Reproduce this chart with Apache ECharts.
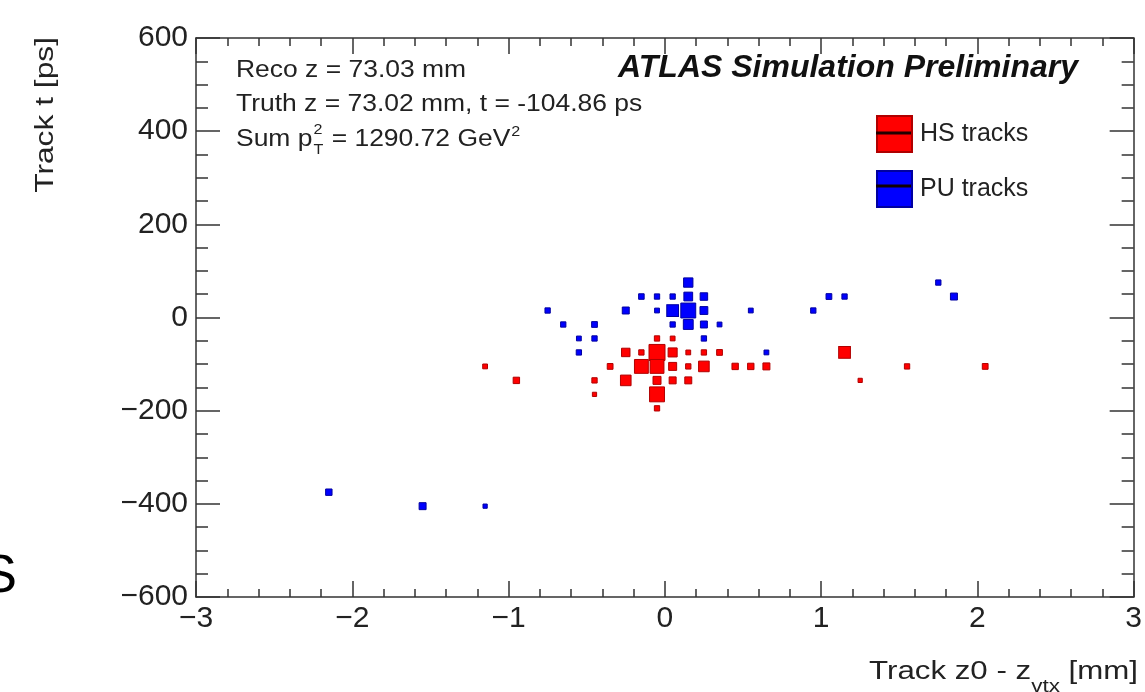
<!DOCTYPE html>
<html><head><meta charset="utf-8">
<script src="https://cdn.jsdelivr.net/npm/echarts@6/dist/echarts.min.js"></script>
<style>html,body{margin:0;padding:0;background:#fff}#c{width:1145px;height:692px}</style>
</head><body><div id="c"></div>
<script>
// Axis ranges / ticks
const xRange = [-3, 3];
const yRange = [-600, 600];
const xTickStep = 1;
const yTickStep = 200;

// HS tracks (bin centres: z0 - zvtx [mm], t [ps], relative bin content)
const hsZ = [-0.05, 0.05, -0.25, -0.15, -0.05, 0.05, 0.15, 0.25, 0.35, -0.35, -0.15, -0.05, 0.05, 0.15, 0.25, 0.45, 0.55, 0.65, -0.95, -0.45, -0.25, -0.05, 0.05, 0.15, -0.45, -0.05, -0.05, -1.15, 1.15, 1.25, 1.55, 2.05];
const hsT = [-45, -45, -75, -75, -75, -75, -75, -75, -75, -105, -105, -105, -105, -105, -105, -105, -105, -105, -135, -135, -135, -135, -135, -135, -165, -165, -195, -105, -75, -135, -105, -105];
const hsW = [11, 9, 28, 11, 100, 32, 9, 11, 13, 13, 75, 75, 25, 11, 44, 16, 16, 19, 16, 11, 44, 25, 19, 19, 7, 87, 11, 9, 54, 7, 11, 13];

// PU tracks
const puZ = [0.15, -0.15, -0.05, 0.05, 0.15, 0.25, -0.75, -0.25, -0.05, 0.05, 0.15, 0.25, 0.55, -0.65, -0.45, 0.05, 0.15, 0.25, 0.35, -0.55, -0.45, 0.25, -0.55, 0.65, 0.95, 1.05, 1.15, 1.75, 1.85, -2.15, -1.55, -1.15];
const puT = [75, 45, 45, 45, 45, 45, 15, 15, 15, 15, 15, 15, 15, -15, -15, -15, -15, -15, -15, -45, -45, -45, -75, -75, 15, 45, 45, 75, 45, -375, -405, -405];
const puW = [34, 12, 11, 11, 30, 22, 11, 19, 9, 54, 87, 24, 9, 11, 13, 11, 38, 19, 9, 9, 11, 11, 11, 9, 11, 13, 11, 11, 19, 16, 19, 7];

const hsData = hsZ.map((z, i) => [z, hsT[i], hsW[i]]);
const puData = puZ.map((z, i) => [z, puT[i], puW[i]]);

const FONT = '"Liberation Sans", Arial, Helvetica, sans-serif';
const ctx = document.createElement('canvas').getContext('2d');
function tw(s, size, weight) { ctx.font = (weight || 'normal') + ' ' + size + 'px ' + FONT; return ctx.measureText(s).width; }
const minus = v => String(v).replace('-', '\u2212');
const AX = '#333', TXT = '#222';

const tickCommon = { inside: true, lineStyle: { color: AX, width: 1.5 } };
function xAx(pos, labels) {
  return {
    type: 'value', min: xRange[0], max: xRange[1], interval: xTickStep, position: pos,
    axisLine: { show: true, onZero: false, lineStyle: { color: AX, width: 1.5 } },
    axisTick: Object.assign({ length: 16 }, tickCommon),
    minorTick: { show: true, splitNumber: 5, length: 8, lineStyle: { color: AX, width: 1.5 } },
    splitLine: { show: false },
    axisLabel: { show: labels, formatter: minus, fontSize: 30, color: TXT, fontFamily: FONT, margin: 7, showMinLabel: true, showMaxLabel: true }
  };
}
function yAx(pos, labels) {
  return {
    type: 'value', min: yRange[0], max: yRange[1], interval: yTickStep, position: pos,
    axisLine: { show: true, onZero: false, lineStyle: { color: AX, width: 1.5 } },
    axisTick: Object.assign({ length: 24 }, tickCommon),
    minorTick: { show: true, splitNumber: 4, length: 12, lineStyle: { color: AX, width: 1.5 } },
    splitLine: { show: false },
    axisLabel: { show: labels, formatter: minus, fontSize: 30, color: TXT, fontFamily: FONT, margin: 8, showMinLabel: true, showMaxLabel: true }
  };
}

const SX = 1.15, FS = 23;
const graphics = [];
function txt(s, x, y, size, opts) {
  const o = Object.assign({ align: 'left', sx: SX, weight: 'normal', style: 'normal', rot: 0, fill: TXT }, opts || {});
  graphics.push({
    type: 'text', x: x, y: y, scaleX: o.sx, rotation: o.rot,
    style: { text: s, fontSize: size, fontFamily: FONT, fontWeight: o.weight, fontStyle: o.style, fill: o.fill, align: o.align, verticalAlign: 'middle' }
  });
}
// info texts
txt('Reco z = 73.03 mm', 236, 71, FS);
txt('Truth z = 73.02 mm, t = -104.86 ps', 236, 105, FS);
(function () {
  const x0 = 236, yc = 140;
  const w1 = tw('Sum p', FS) * SX;
  txt('Sum p', x0, yc, FS);
  txt('T', x0 + w1 + 1, yc + 10, 14);
  txt('2', x0 + w1 + 1, yc - 10, 14);
  const w2 = Math.max(tw('T', 14), tw('2', 14)) * SX;
  const s3 = ' = 1290.72 GeV';
  const x3 = x0 + w1 + w2 + 2;
  txt(s3, x3, yc, FS);
  txt('2', x3 + tw(s3, FS) * SX + 1, yc - 8, 14);
})();
txt('ATLAS Simulation Preliminary', 1078, 68, 32, { align: 'right', sx: 1, weight: 'bold', style: 'italic', fill: '#111' });

// axis titles
(function () {
  const s = 1.25, fa = 25, fb = 18;
  const a = 'Track z0 - z', b = 'vtx', c = ' [mm]';
  const wa = tw(a, fa) * s, wb = tw(b, fb) * s, wc = tw(c, fa) * s;
  const x0 = 1138 - (wa + wb + wc);
  txt(a, x0, 672, fa, { sx: s });
  txt(b, x0 + wa, 687, fb, { sx: s });
  txt(c, x0 + wa + wb, 672, fa, { sx: s });
  txt('Track t [ps]', 46, 37, 25, { sx: 1.27, rot: Math.PI / 2, align: 'right' });
})();
// stray glyph from the source slide
txt('S', -19, 577, 54, { sx: 1, fill: '#000' });
// legend line markers
graphics.push({ type: 'line', z: 100, shape: { x1: 876, y1: 133, x2: 911, y2: 133 }, style: { stroke: '#200', lineWidth: 3 } });
graphics.push({ type: 'line', z: 100, shape: { x1: 876, y1: 186, x2: 911, y2: 186 }, style: { stroke: '#100', lineWidth: 3 } });

const sizeFn = v => 1.6 * Math.sqrt(v[2]);

const chart = echarts.init(document.getElementById('c'), null, { renderer: 'canvas' });
chart.setOption({
  animation: false,
  backgroundColor: '#fff',
  grid: { left: 196, right: 8, top: 38, bottom: 95, containLabel: false },
  xAxis: [xAx('bottom', true), xAx('top', false)],
  yAxis: [yAx('left', true), yAx('right', false)],
  legend: {
    orient: 'vertical', left: 876, top: 115, padding: 0, itemWidth: 35, itemHeight: 36, itemGap: 17,
    data: [{ name: 'HS tracks', icon: 'rect' }, { name: 'PU tracks', icon: 'rect' }],
    textStyle: { fontSize: 25, color: TXT, fontFamily: FONT, padding: [4, 0, 0, 3] }
  },
  series: [
    { name: 'HS tracks', type: 'scatter', symbol: 'rect', symbolSize: sizeFn, data: hsData, xAxisIndex: 0, yAxisIndex: 0,
      itemStyle: { color: '#ff0000', borderColor: '#b00000', borderWidth: 1, opacity: 1 } },
    { name: 'PU tracks', type: 'scatter', symbol: 'rect', symbolSize: sizeFn, data: puData, xAxisIndex: 0, yAxisIndex: 0,
      itemStyle: { color: '#0000ff', borderColor: '#0000a0', borderWidth: 1, opacity: 1 } }
  ],
  graphic: graphics
});
</script></body></html>
